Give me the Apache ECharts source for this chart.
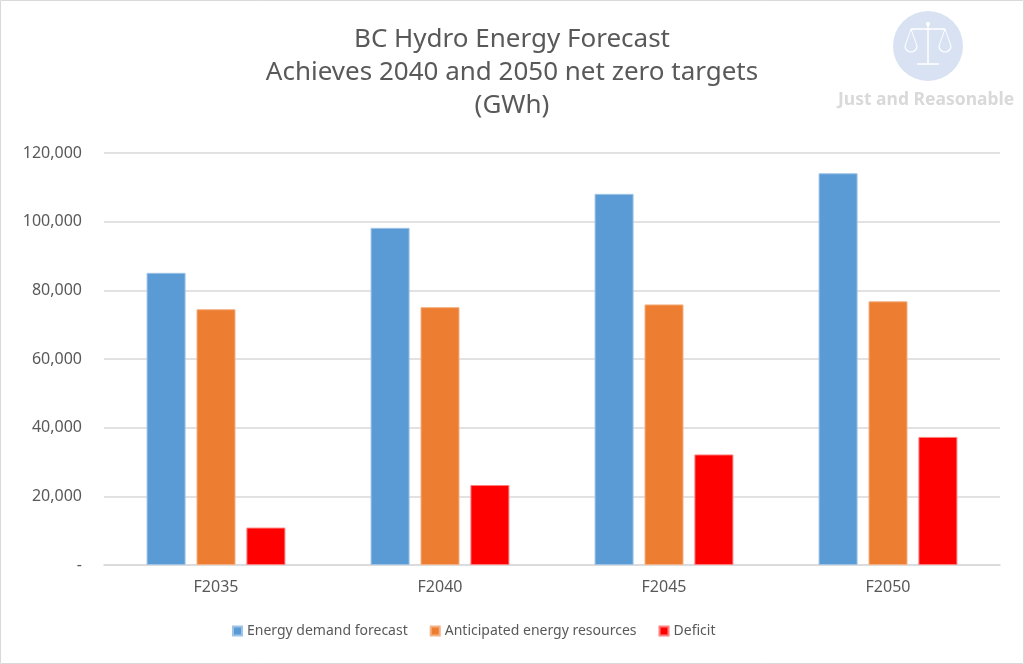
<!DOCTYPE html>
<html><head><meta charset="utf-8">
<script src="https://cdn.jsdelivr.net/npm/echarts@6/dist/echarts.min.js"></script>
<style>html,body{margin:0;padding:0;background:#fff}#c{width:1024px;height:664px}</style>
</head><body><div id="c"></div>
<script>
const categories = ['F2035','F2040','F2045','F2050'];
const demand = [85100, 98200, 108100, 114100];
const resources = [74500, 75100, 75900, 76800];
const deficit = [10900, 23300, 32200, 37300];
const yTicks = [0, 20000, 40000, 60000, 80000, 100000, 120000];
const seriesNames = ['Energy demand forecast','Anticipated energy resources','Deficit'];
const titleLines = ['BC Hydro Energy Forecast','Achieves 2040 and 2050 net zero targets','(GWh)'];

const FONT = 'Noto Sans';
const chart = echarts.init(document.getElementById('c'));
const fmt = v => v === 0 ? '-' : v.toLocaleString('en-US');
function mk(name, data, color, border) {
  return { name, type: 'bar', data, barWidth: 39, barGap: '28%',
    itemStyle: { color, borderColor: border, borderWidth: 1 } };
}
chart.setOption({
  animation: false,
  textStyle: { fontFamily: FONT },
  title: { text: titleLines.join('\n'), left: 'center', top: 18,
    textStyle: { fontFamily: FONT, fontSize: 26, fontWeight: 'normal', color: '#595959', lineHeight: 33 } },
  legend: { bottom: 21, left: 227, itemWidth: 9, itemHeight: 9, itemGap: 22, icon: 'rect',
    textStyle: { fontFamily: FONT, fontSize: 14, color: '#595959' }, data: seriesNames },
  grid: { left: 104, right: 24, top: 153, bottom: 99 },
  xAxis: { type: 'category', data: categories,
    axisLine: { lineStyle: { color: '#d9d9d9', width: 1.5 } }, axisTick: { show: false },
    axisLabel: { color: '#595959', fontSize: 16, margin: 14, fontFamily: FONT } },
  yAxis: { type: 'value', min: 0, max: yTicks[yTicks.length-1], interval: yTicks[1]-yTicks[0],
    axisLine: { show: false }, axisTick: { show: false },
    splitLine: { lineStyle: { color: '#d9d9d9', width: 1.5 } },
    axisLabel: { color: '#595959', fontSize: 16, margin: 22, formatter: fmt, fontFamily: FONT } },
  series: [
    mk(seriesNames[0], demand, '#5B9BD5', '#9dc3e6'),
    mk(seriesNames[1], resources, '#ED7D31', '#f4b183'),
    mk(seriesNames[2], deficit, '#FF0000', '#ff7f7f')
  ],
  graphic: [
    { type: 'rect', shape: { x: 0.5, y: 0.5, width: 1023, height: 663 }, style: { fill: 'none', stroke: '#d9d9d9', lineWidth: 1 }, silent: true },
    { type: 'circle', shape: { cx: 928, cy: 46, r: 35 }, style: { fill: '#d9e2f2' } },
    { type: 'group', children: [
      { type: 'line', shape: { x1: 928, y1: 22, x2: 928, y2: 64 }, style: { stroke: '#fff', lineWidth: 1.5 } },
      { type: 'line', shape: { x1: 911, y1: 29, x2: 945, y2: 29 }, style: { stroke: '#fff', lineWidth: 1.5 } },
      { type: 'polyline', shape: { points: [[905,46],[911,29],[917,46]] }, style: { stroke: '#fff', fill: 'none', lineWidth: 1 } },
      { type: 'polyline', shape: { points: [[939,46],[945,29],[951,46]] }, style: { stroke: '#fff', fill: 'none', lineWidth: 1 } },
      { type: 'arc', shape: { cx: 911, cy: 46, r: 6, startAngle: 0, endAngle: Math.PI }, style: { stroke: '#fff', fill: 'none', lineWidth: 1.2 } },
      { type: 'arc', shape: { cx: 945, cy: 46, r: 6, startAngle: 0, endAngle: Math.PI }, style: { stroke: '#fff', fill: 'none', lineWidth: 1.2 } },
      { type: 'line', shape: { x1: 917, y1: 64, x2: 939, y2: 64 }, style: { stroke: '#fff', lineWidth: 1.5 } },
      { type: 'circle', shape: { cx: 928, cy: 24, r: 2 }, style: { fill: '#fff' } }
    ] },
    { type: 'text', left: 838, top: 91, style: { text: 'Just and Reasonable', fill: '#d9d9d9', font: 'bold 17.5px "Noto Sans"' } }
  ]
});
</script></body></html>
